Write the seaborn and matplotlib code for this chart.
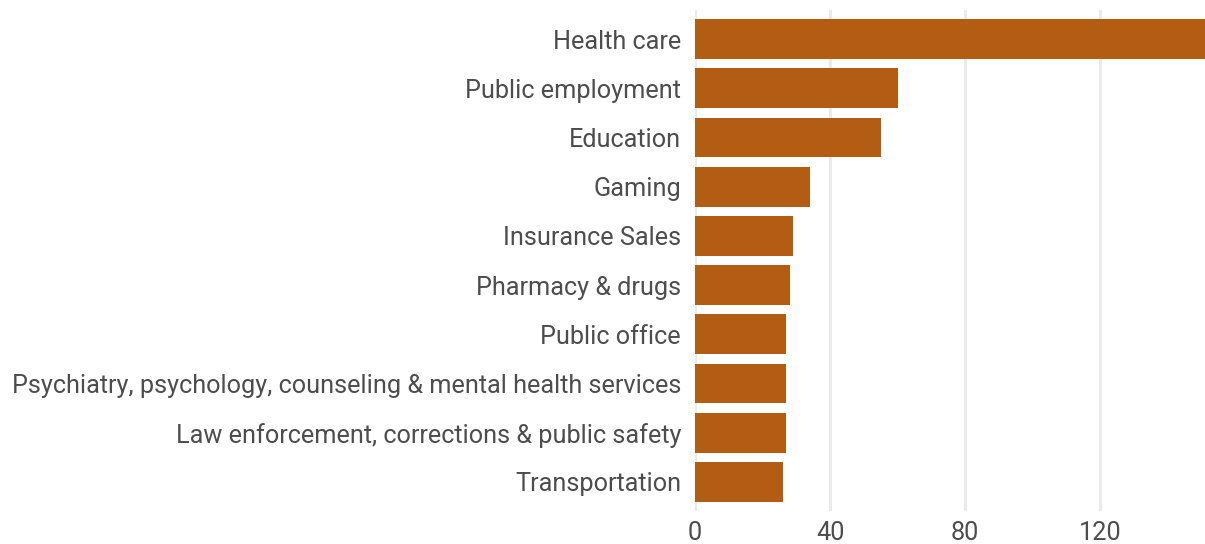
import matplotlib
matplotlib.use("Agg")
import matplotlib.pyplot as plt
import seaborn as sns
import pandas as pd

categories = [
    "Health care",
    "Public employment",
    "Education",
    "Gaming",
    "Insurance Sales",
    "Pharmacy & drugs",
    "Public office",
    "Psychiatry, psychology, counseling & mental health services",
    "Law enforcement, corrections & public safety",
    "Transportation",
]
values = [151, 60, 55, 34, 29, 28, 27, 27, 27, 26]
x_ticks = [0, 40, 80, 120]

df = pd.DataFrame({"category": categories, "value": values})

sns.set_theme(style="white")
plt.rcParams["font.family"] = ["Roboto", "DejaVu Sans"]

text_color = "#4d4d4d"
bar_color = "#b35c14"

fig = plt.figure(figsize=(12.05, 5.44), dpi=100)
ax = fig.add_axes([695 / 1205, 1 - 511 / 544, 1 - 695 / 1205, 501 / 544])

sns.barplot(data=df, x="value", y="category", color=bar_color,
            width=0.81, saturation=1, linewidth=0, ax=ax, zorder=2)

ax.set_xlim(0, 151)
ax.set_ylim(9.59, -0.59)
ax.set_xticks(x_ticks)
ax.grid(axis="x", color="#ebebeb", linewidth=2.2, zorder=0)
ax.grid(axis="y", visible=False)
ax.set_axisbelow(True)
for s in ax.spines.values():
    s.set_visible(False)

ax.set_xlabel("")
ax.set_ylabel("")
ax.tick_params(axis="y", length=0, pad=10, labelsize=18.2, labelcolor=text_color)
ax.tick_params(axis="x", length=0, pad=7, labelsize=18.2, labelcolor=text_color)

fig.savefig("out.png", dpi=100)
